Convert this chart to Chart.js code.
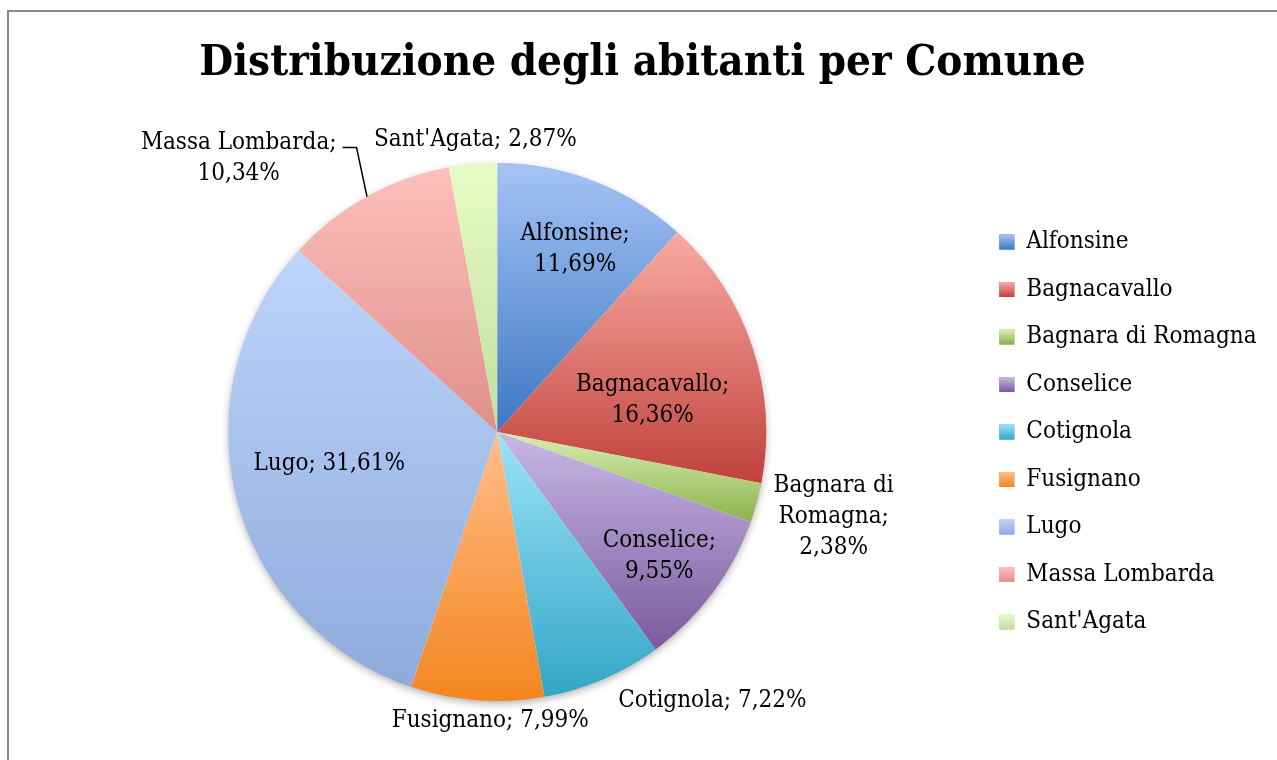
<!DOCTYPE html>
<html>
<head>
<meta charset="utf-8">
<script src="https://cdn.jsdelivr.net/npm/chart.js@4/dist/chart.umd.min.js"></script>
<style>
    html, body { margin: 0; padding: 0; background: #fff; overflow: hidden; }
    #cornice { position: absolute; left: 7px; top: 10px; width: 1400px; height: 900px;
               border-left: 2px solid #898989; border-top: 2px solid #898989; }
    #contenitore { position: absolute; left: 0; top: 0; width: 1277px; height: 760px; }
</style>
</head>
<body>
<div id="cornice"></div>
<div id="contenitore"><canvas id="pieChart" width="1277" height="760"></canvas></div>
<script>
const comuni = ['Alfonsine', 'Bagnacavallo', 'Bagnara di Romagna', 'Conselice', 'Cotignola',
                'Fusignano', 'Lugo', 'Massa Lombarda', "Sant'Agata"];
const quote = [11.69, 16.36, 2.38, 9.55, 7.22, 7.99, 31.61, 10.34, 2.87];

// gradient colours, top (light) and bottom (dark) of each slice
const coloriChiari = ['#a6c3f5', '#f9aba4', '#d8efb2', '#c9b8e6', '#9be3f9', '#ffbe8a', '#bed5fb', '#fdc0bb', '#e6fcc4'];
const coloriScuri  = ['#3c78c2', '#c0413b', '#8db24c', '#7a5a9d', '#33a6c6', '#f4851f', '#8eabdc', '#df8f8a', '#c3dd9f'];

const FONT = '"DejaVu Serif Condensed", "DejaVu Serif", serif';

// where each data label goes: fraction of radius, angle shift from slice middle (deg), line break mode
const posEtichette = [
    { dist: 0.74, shift: 2, righe: 2 },
    { dist: 0.59, shift: 6.8, righe: 2 },
    { dist: 1.29, shift: -1.1, righe: 3 },
    { dist: 0.76, shift: 0.8, righe: 2 },
    { dist: 1.28, shift: -15.6, righe: 1 },
    { dist: 1.075, shift: -2.9, righe: 1 },
    { dist: 0.636, shift: 3.6, righe: 1 },
    { dist: 1.40, shift: -14.4, righe: 2, leader: true },
    { dist: 1.09, shift: 0.9, righe: 1 }
];

function percentuale(v) {
    return v.toFixed(2).replace('.', ',') + '%';
}

function righeEtichetta(i) {
    const nome = comuni[i], pct = percentuale(quote[i]);
    const modo = posEtichette[i].righe;
    if (modo === 1) return [nome + '; ' + pct];
    if (modo === 3) {
        const parole = nome.split(' ');
        return [parole.slice(0, 2).join(' '), parole.slice(2).join(' ') + ';', pct];
    }
    return [nome + ';', pct];
}

// vertical gradient over the bounding box of one slice
function gradienteFetta(c) {
    const i = c.dataIndex;
    const chart = c.chart, area = chart.chartArea;
    if (!area || i === undefined) return coloriScuri[i || 0];
    const cx = (area.left + area.right) / 2, cy = (area.top + area.bottom) / 2;
    const r = Math.min(area.right - area.left, area.bottom - area.top) / 2;
    const tot = quote.reduce((a, b) => a + b, 0);
    let prima = 0;
    for (let k = 0; k < i; k++) prima += quote[k];
    const a0 = prima / tot * 2 * Math.PI - Math.PI / 2;
    const a1 = (prima + quote[i]) / tot * 2 * Math.PI - Math.PI / 2;
    let yMin = cy, yMax = cy;
    for (let s = 0; s <= 60; s++) {
        const y = cy + r * Math.sin(a0 + (a1 - a0) * s / 60);
        yMin = Math.min(yMin, y);
        yMax = Math.max(yMax, y);
    }
    const g = chart.ctx.createLinearGradient(0, yMin, 0, yMax);
    g.addColorStop(0, coloriChiari[i]);
    g.addColorStop(1, coloriScuri[i]);
    return g;
}

// soft shadow under the pie
const ombraPlugin = {
    id: 'ombra',
    beforeDatasetsDraw(chart) {
        const arc = chart.getDatasetMeta(0).data[0];
        if (!arc) return;
        const ctx = chart.ctx;
        ctx.save();
        ctx.shadowColor = 'rgba(0,0,0,0.35)';
        ctx.shadowBlur = 9;
        ctx.shadowOffsetY = 3;
        ctx.fillStyle = '#ffffff';
        ctx.beginPath();
        ctx.arc(arc.x, arc.y, arc.outerRadius - 1, 0, 2 * Math.PI);
        ctx.fill();
        ctx.restore();
    }
};

// "Nome; xx,xx%" labels
const etichettePlugin = {
    id: 'etichette',
    afterDatasetsDraw(chart) {
        const ctx = chart.ctx;
        const meta = chart.getDatasetMeta(0);
        const lh = 31;
        ctx.save();
        ctx.font = '24px ' + FONT;
        ctx.fillStyle = '#000';
        ctx.textAlign = 'center';
        ctx.textBaseline = 'middle';
        meta.data.forEach((arc, i) => {
            const p = posEtichette[i];
            const medio = (arc.startAngle + arc.endAngle) / 2;
            const ang = medio + p.shift * Math.PI / 180;
            const x = arc.x + Math.cos(ang) * arc.outerRadius * p.dist;
            const y = arc.y + Math.sin(ang) * arc.outerRadius * p.dist;
            const righe = righeEtichetta(i);
            const y0 = y - (righe.length - 1) * lh / 2;
            righe.forEach((t, k) => ctx.fillText(t, x, y0 + k * lh));
            if (p.leader) {
                const w = ctx.measureText(righe[0]).width;
                const xs = x + w / 2 + 6, ys = y0 + 5;
                ctx.strokeStyle = '#000';
                ctx.lineWidth = 1.5;
                ctx.beginPath();
                ctx.moveTo(xs, ys);
                ctx.lineTo(xs + 14, ys);
                ctx.lineTo(arc.x + Math.cos(medio) * arc.outerRadius, arc.y + Math.sin(medio) * arc.outerRadius);
                ctx.stroke();
            }
        });
        ctx.restore();
    }
};

// gradient squares over the legend boxes
const legendaPlugin = {
    id: 'legendaGradiente',
    afterDraw(chart) {
        const ctx = chart.ctx;
        const boxes = chart.legend.legendHitBoxes || [];
        boxes.forEach((b, i) => {
            const y = b.top + (b.height - 15) / 2;
            const g = ctx.createLinearGradient(0, y, 0, y + 15);
            g.addColorStop(0, coloriChiari[i]);
            g.addColorStop(1, coloriScuri[i]);
            ctx.fillStyle = g;
            ctx.fillRect(b.left, y, 15, 15);
        });
    }
};

const ctx = document.getElementById('pieChart').getContext('2d');
const pieChart = new Chart(ctx, {
    type: 'pie',
    data: {
        labels: comuni,
        datasets: [{
            data: quote,
            backgroundColor: gradienteFetta,
            borderWidth: 0
        }]
    },
    options: {
        responsive: false,
        devicePixelRatio: 1,
        animation: false,
        layout: {
            padding: { left: 18.5, right: 10.5, top: 0, bottom: 59 }
        },
        plugins: {
            title: {
                display: true,
                text: 'Distribuzione degli abitanti per Comune',
                color: '#000',
                font: { family: FONT, size: 43.5, weight: 'bold' },
                padding: { top: 37.9, bottom: 72.9 }
            },
            legend: {
                position: 'right',
                align: 'center',
                fullSize: false,
                labels: {
                    boxWidth: 15,
                    boxHeight: 15,
                    padding: 23.5,
                    color: '#000',
                    font: { family: FONT, size: 24 },
                    generateLabels: () => comuni.map((nome, i) => ({
                        text: nome,
                        fillStyle: coloriScuri[i],
                        strokeStyle: 'rgba(0,0,0,0)',
                        lineWidth: 0,
                        hidden: false,
                        index: i,
                        fontColor: '#000'
                    }))
                }
            },
            tooltip: { enabled: false }
        }
    },
    plugins: [ombraPlugin, etichettePlugin, legendaPlugin]
});
</script>
</body>
</html>
